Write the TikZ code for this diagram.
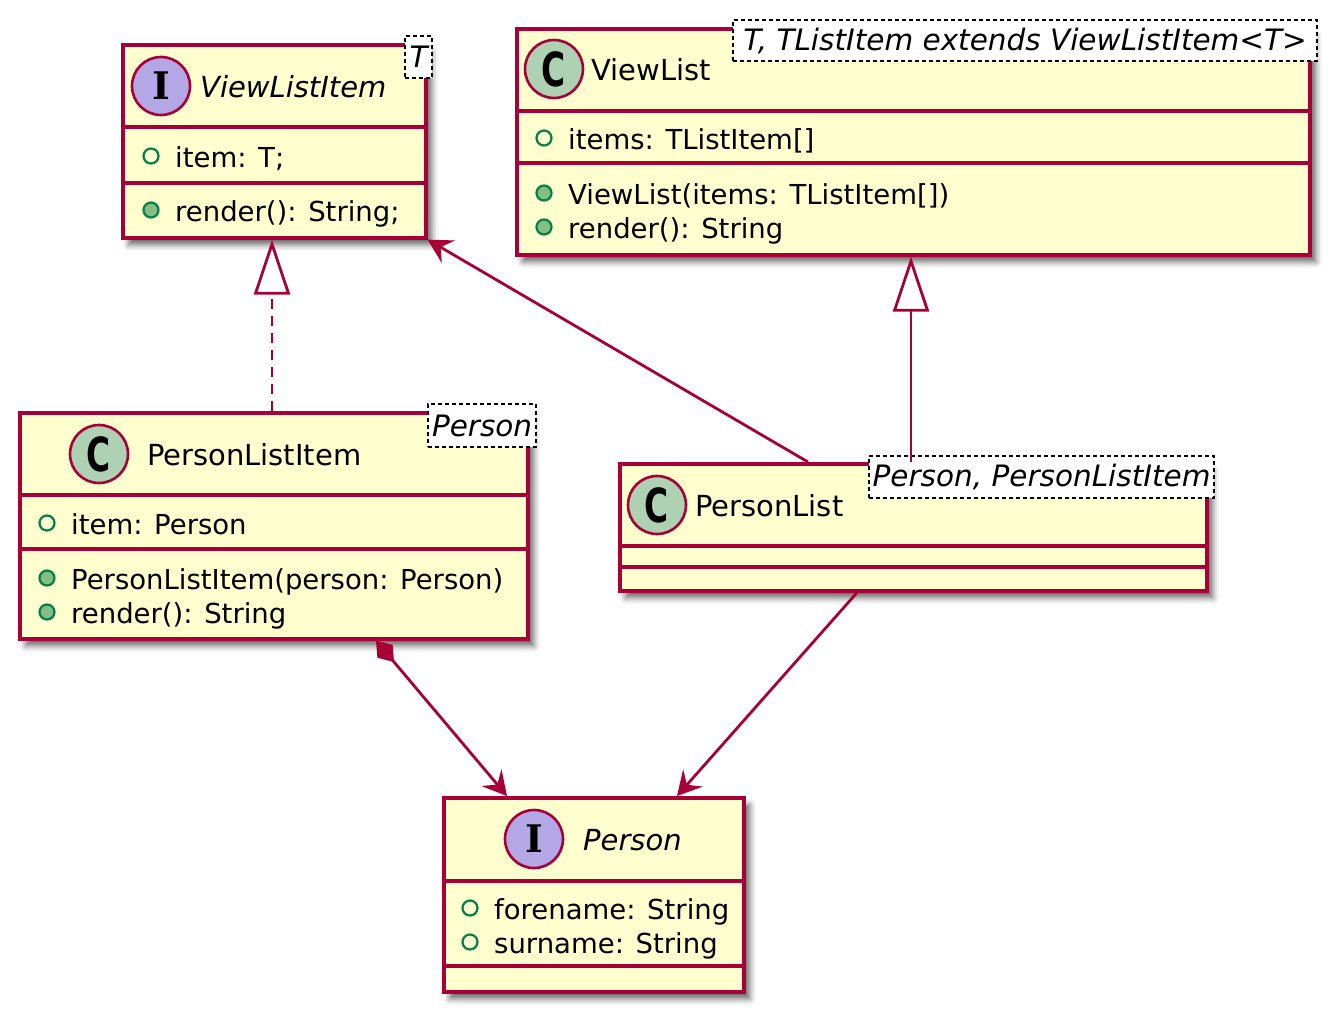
\documentclass[tikz,border=0pt]{standalone}
\usepackage{graphicx}
\usepackage{fontspec}
\setmainfont{DejaVu Sans}
\newfontfamily\badgeserif{DejaVu Serif}
\usetikzlibrary{arrows.meta,shadows.blur}
\definecolor{umlfill}{HTML}{FEFECE}
\definecolor{umlborder}{HTML}{A80036}
\definecolor{cbadge}{HTML}{ADD1B2}
\definecolor{ibadge}{HTML}{B4A7E5}
\definecolor{visgreen}{HTML}{038048}
\definecolor{visfill}{HTML}{84BE84}
\begin{document}
\begin{tikzpicture}[x=1pt,y=-1pt,
  classbox/.style={draw=umlborder, fill=umlfill, line width=3.6pt, anchor=north west, inner sep=0pt,
    blur shadow={shadow xshift=6pt, shadow yshift=-7pt, shadow blur radius=6pt, shadow opacity=60}},
  sep/.style={draw=umlborder, line width=3.2pt},
  badge/.style={circle, draw=umlborder, line width=2.6pt, minimum size=58pt, inner sep=0pt},
  cbad/.style={badge, fill=cbadge},
  ibad/.style={badge, fill=ibadge},
  title/.style={anchor=base west, inner sep=0pt, font=\fontsize{29}{33}\selectfont},
  ititle/.style={title, font=\fontsize{29}{33}\selectfont\itshape},
  member/.style={anchor=base west, inner sep=0pt, font=\fontsize{27.5}{31}\selectfont},
  stereo/.style={draw=black, fill=white, line width=2.2pt, dash pattern=on 4pt off 3pt,
    anchor=north west, inner sep=0pt, font=\fontsize{29.5}{33}\selectfont\itshape},
  field/.style={circle, draw=visgreen, line width=2.2pt, minimum size=15pt, inner sep=0pt},
  method/.style={field, fill=visfill},
  conn/.style={draw=umlborder, line width=2.8pt},
  cletter/.style={},
]
\useasboundingbox (0,0) rectangle (1342,1023);

% ---------- ViewListItem ----------
\node[classbox, minimum width=303pt, minimum height=193pt] (vli) at (121,43) {};
\draw[sep] ([yshift=-84pt]vli.north west) -- ([yshift=-84pt]vli.north east);
\draw[sep] ([yshift=-140pt]vli.north west) -- ([yshift=-140pt]vli.north east);
\node[ibad] (vlibadge) at (161,86) {\badgeserif\bfseries\fontsize{38}{38}\selectfont I};
\node[ititle] (vlititle) at (200,97) {ViewListItem};
\node[stereo, minimum width=27pt, minimum height=42pt] (vlist) at (404,35) {T};
\node[field] (vlif1) at (151,156) {};
\node[member] (vlit1) at (175,167) {item: T;};
\node[method] (vlim1) at (151,210) {};
\node[member] (vlit2) at (175,221) {render(): String;};

% ---------- ViewList ----------
\node[classbox, minimum width=793pt, minimum height=226pt] (vl) at (515,27) {};
\draw[sep] ([yshift=-84pt]vl.north west) -- ([yshift=-84pt]vl.north east);
\draw[sep] ([yshift=-136pt]vl.north west) -- ([yshift=-136pt]vl.north east);
\node[cbad] (vlbadge) at (554,69) {\scalebox{0.7}[1]{\bfseries\fontsize{47}{47}\selectfont C}};
\node[title] (vltitle) at (591,80) {ViewList};
\node[stereo, minimum width=584pt, minimum height=41pt] (vlst) at (732,19) {T, TListItem extends ViewListItem<T>};
\node[field] (vlf1) at (544,138) {};
\node[member] (vlt1) at (568,149) {items: TListItem[]};
\node[method] (vlm1) at (544,193) {};
\node[member] (vlt2) at (568,204) {ViewList(items: TListItem[])};
\node[method] (vlm2) at (544,227) {};
\node[member] (vlt3) at (568,238) {render(): String};

% ---------- PersonListItem ----------
\node[classbox, minimum width=508pt, minimum height=226pt] (pli) at (18,411) {};
\draw[sep] ([yshift=-84pt]pli.north west) -- ([yshift=-84pt]pli.north east);
\draw[sep] ([yshift=-138pt]pli.north west) -- ([yshift=-138pt]pli.north east);
\node[cbad] (plibadge) at (99,454) {\scalebox{0.7}[1]{\bfseries\fontsize{47}{47}\selectfont C}};
\node[title] (plititle) at (147,465) {PersonListItem};
\node[stereo, minimum width=108pt, minimum height=43pt] (plist) at (427,403) {Person};
\node[field] (plif1) at (47,523) {};
\node[member] (plit1) at (71,534) {item: Person};
\node[method] (plim1) at (47,578) {};
\node[member] (plit2) at (71,589) {PersonListItem(person: Person)};
\node[method] (plim2) at (47,612) {};
\node[member] (plit3) at (71,623) {render(): String};

% ---------- PersonList ----------
\node[classbox, minimum width=587pt, minimum height=127pt] (pl) at (618,462) {};
\draw[sep] ([yshift=-84pt]pl.north west) -- ([yshift=-84pt]pl.north east);
\draw[sep] ([yshift=-105pt]pl.north west) -- ([yshift=-105pt]pl.north east);
\node[cbad] (plbadge) at (657,505) {\scalebox{0.7}[1]{\bfseries\fontsize{47}{47}\selectfont C}};
\node[title] (pltitle) at (695,516) {PersonList};
\node[stereo, minimum width=345pt, minimum height=42pt] (plst) at (868,455) {Person, PersonListItem};

% ---------- Person ----------
\node[classbox, minimum width=300pt, minimum height=194pt] (per) at (442,796) {};
\draw[sep] ([yshift=-85pt]per.north west) -- ([yshift=-85pt]per.north east);
\draw[sep] ([yshift=-170pt]per.north west) -- ([yshift=-170pt]per.north east);
\node[ibad] (perbadge) at (534,839) {\badgeserif\bfseries\fontsize{38}{38}\selectfont I};
\node[ititle] (pertitle) at (583,850) {Person};
\node[field] (perf1) at (470,908) {};
\node[member] (pert1) at (494,919) {forename: String};
\node[field] (perf2) at (470,942) {};
\node[member] (pert2) at (494,953) {surname: String};

% ---------- connectors ----------
\draw[conn, dash pattern=on 10pt off 7pt, -{Triangle[length=55pt,width=36pt,fill=white]}]
  ([xshift=254pt]pli.north west) -- ([xshift=151pt]vli.south west);
\draw[conn, -{Triangle[length=55pt,width=36pt,fill=white]}]
  ([xshift=293pt]pl.north west) -- ([xshift=396pt]vl.south west);
\draw[conn, -{Stealth[length=24pt,width=26pt,inset=9pt]}]
  ([xshift=190pt]pl.north west) -- (vli.south east);
\draw[conn, {Diamond[length=28pt,width=20pt]}-{Stealth[length=24pt,width=26pt,inset=9pt]}]
  ([xshift=358pt]pli.south west) -- ([xshift=65pt]per.north west);
\draw[conn, -{Stealth[length=24pt,width=26pt,inset=9pt]}]
  ([xshift=239pt]pl.south west) -- ([xshift=235pt]per.north west);
\end{tikzpicture}
\end{document}
